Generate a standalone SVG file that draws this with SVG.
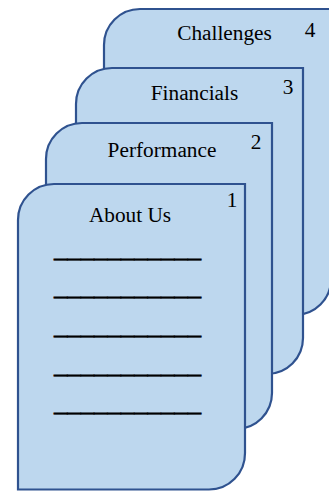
<svg xmlns="http://www.w3.org/2000/svg" width="329" height="491" viewBox="0 0 329 491">
<style>
.card{fill:#BDD7EE;stroke:#2F528F;stroke-width:2.2}
.t{font-family:"Liberation Serif","Times New Roman",serif;font-size:21.3px;fill:#000;text-anchor:middle}
.u{font-family:"Liberation Serif","Times New Roman",serif;font-size:26.67px;fill:#000;stroke:#000;stroke-width:0.6}
</style>
<rect width="329" height="491" fill="#fff"/>
<g id="card4">
<path class="card" d="M104,45 A36,36 0 0 1 140,9 H331 V279 A36,36 0 0 1 295,315 H104 Z"/>
<text class="t" x="224.5" y="40">Challenges</text>
<text class="t" x="310" y="37">4</text>
</g>
<g id="card3">
<path class="card" d="M76,104 A36,36 0 0 1 112,68 H303 V338 A36,36 0 0 1 267,374 H76 Z"/>
<text class="t" x="194.5" y="100">Financials</text>
<text class="t" x="288" y="94">3</text>
</g>
<g id="card2">
<path class="card" d="M46,159 A36,36 0 0 1 82,123 H272 V393 A36,36 0 0 1 236,429 H46 Z"/>
<text class="t" x="162" y="157">Performance</text>
<text class="t" x="256" y="149">2</text>
</g>
<g id="card1">
<path class="card" d="M18,220 A36,36 0 0 1 54,184 H245 V453 A36,36 0 0 1 209,489.5 H18 Z"/>
<text class="t" x="130" y="222">About Us</text>
<text class="t" x="232" y="207">1</text>
<text class="u" x="54" y="257" textLength="147" lengthAdjust="spacingAndGlyphs">___________</text>
<text class="u" x="54" y="295" textLength="147" lengthAdjust="spacingAndGlyphs">___________</text>
<text class="u" x="54" y="334" textLength="147" lengthAdjust="spacingAndGlyphs">___________</text>
<text class="u" x="54" y="373" textLength="147" lengthAdjust="spacingAndGlyphs">___________</text>
<text class="u" x="54" y="411" textLength="147" lengthAdjust="spacingAndGlyphs">___________</text>
</g>
<g id="connectors"/>
</svg>
